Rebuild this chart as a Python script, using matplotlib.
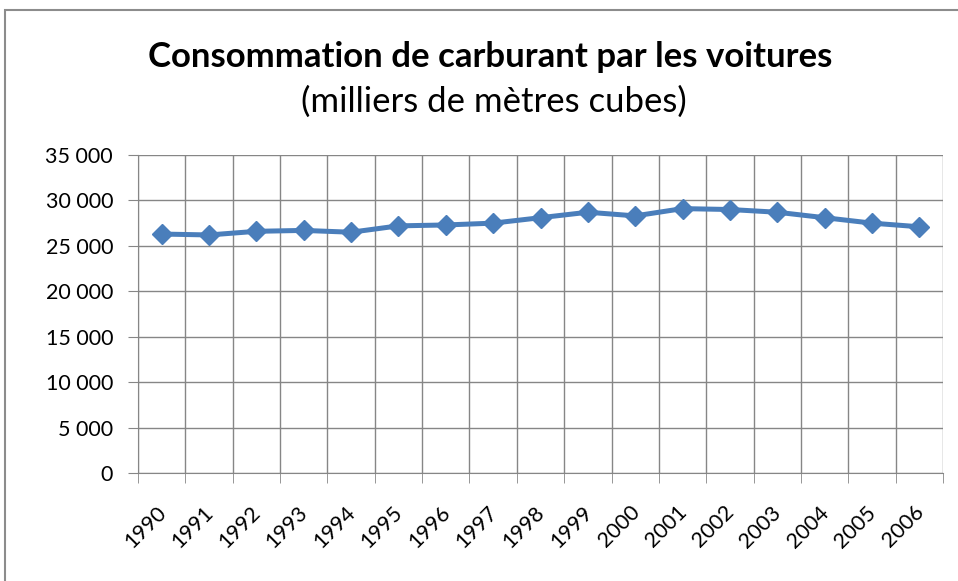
import matplotlib
matplotlib.use("Agg")
import matplotlib.pyplot as plt
from matplotlib.patches import Rectangle
from matplotlib.ticker import FuncFormatter
import matplotlib.transforms as mtrans

# données
annees = [str(a) for a in range(1990, 2007)]
conso = [26300, 26200, 26600, 26700, 26500, 27200, 27300, 27500, 28100,
         28700, 28300, 29100, 29000, 28700, 28100, 27500, 27100]

titre = "Consommation de carburant par les voitures"
sous_titre = "(milliers de mètres cubes)"

plt.rcParams['font.family'] = ['Lato', 'DejaVu Sans']

fig = plt.figure(figsize=(9.58, 5.81), dpi=100)
ax = fig.add_axes([138/958, 1 - 473/581, (943 - 138)/958, (473 - 155)/581])

# cadre du graphique
fig.patches.append(Rectangle((5/958, -0.1), 1.1, 1 - 10/581 + 0.1,
                             transform=fig.transFigure, fill=False,
                             edgecolor='#8c8c8c', linewidth=1.5))

x = list(range(len(annees)))
ax.plot(x, conso, color='#4a7ebb', linewidth=3.6, marker='D', markersize=10.5,
        zorder=3)

ax.set_xlim(-0.5, len(annees) - 0.5)
ax.set_ylim(0, 35000)
ax.set_yticks(range(0, 35001, 5000))
ax.yaxis.set_major_formatter(FuncFormatter(lambda v, p: f"{int(v):,}".replace(",", " ")))
ax.grid(axis='y', color='#868686', linewidth=1)

ax.set_xticks(x)
ax.set_xticklabels(annees)
ax.set_xticks([i - 0.5 for i in range(len(annees) + 1)], minor=True)
ax.grid(axis='x', which='minor', color='#868686', linewidth=1)
ax.tick_params(axis='x', which='major', length=0, pad=21, labelsize=15.5,
               labelrotation=45)
ax.tick_params(axis='x', which='minor', length=7, color='#868686', direction='out')
ax.tick_params(axis='y', length=7, color='#868686', labelsize=15.5, pad=11)
plt.setp(ax.get_xticklabels(), ha='right', va='top', rotation_mode='anchor')
off = mtrans.ScaledTranslation(-6/100, 0, fig.dpi_scale_trans)
for lab in ax.get_xticklabels():
    lab.set_transform(lab.get_transform() + off)

for s in ['top', 'right']:
    ax.spines[s].set_visible(False)
for s in ['left', 'bottom']:
    ax.spines[s].set_color('#868686')
ax.set_axisbelow(True)

fig.text(490/958, 1 - 57/581, titre, ha='center', va='center',
         fontsize=25, fontweight='bold')
fig.text(494/958, 1 - 102/581, sous_titre, ha='center', va='center',
         fontsize=25)

fig.savefig("out.png", dpi=100)
